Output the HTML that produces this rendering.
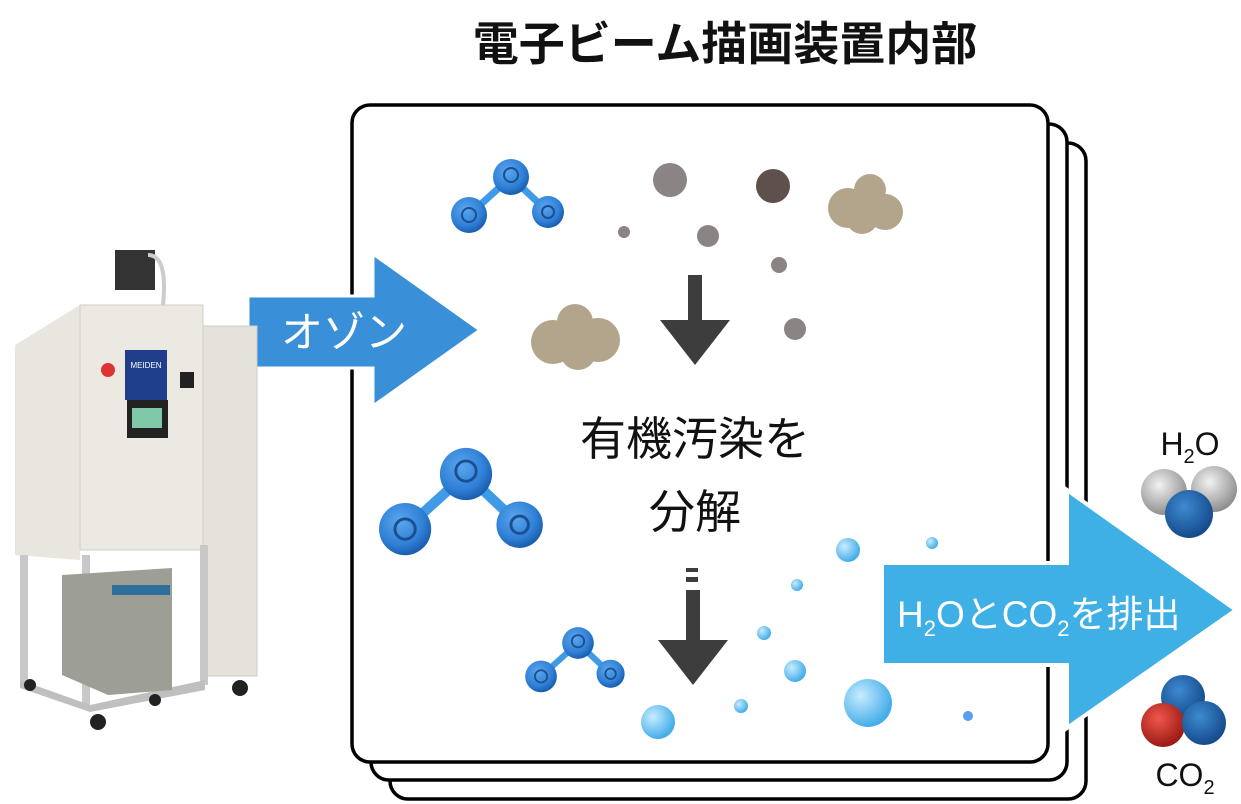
<!DOCTYPE html>
<html><head><meta charset="utf-8"><style>
body{margin:0;background:#fff;width:1241px;height:804px;overflow:hidden}
svg{display:block}
text{font-family:"Liberation Sans","Noto Sans CJK JP",sans-serif}
</style></head><body>
<svg width="1241" height="804" viewBox="0 0 1241 804">
<defs>
<radialGradient id="bl" cx="40%" cy="35%" r="65%"><stop offset="0" stop-color="#5aa6ee"/><stop offset="0.7" stop-color="#2f7fd6"/><stop offset="1" stop-color="#1a5fb0"/></radialGradient>
<radialGradient id="bb" cx="35%" cy="35%" r="65%"><stop offset="0" stop-color="#c8ecff"/><stop offset="1" stop-color="#45aee8"/></radialGradient>
<radialGradient id="gr" cx="40%" cy="35%" r="65%"><stop offset="0" stop-color="#f2f2f2"/><stop offset="1" stop-color="#8f8f8f"/></radialGradient>
<radialGradient id="dk" cx="40%" cy="35%" r="65%"><stop offset="0" stop-color="#3d8ad0"/><stop offset="1" stop-color="#154a8c"/></radialGradient>
<radialGradient id="rd" cx="40%" cy="35%" r="65%"><stop offset="0" stop-color="#f0574c"/><stop offset="1" stop-color="#9a1a14"/></radialGradient>
<g id="mol">
<line x1="0" y1="0" x2="-42" y2="38" stroke="#3f9be6" stroke-width="7"/>
<line x1="0" y1="0" x2="37" y2="35" stroke="#3f9be6" stroke-width="7"/>
<circle cx="0" cy="0" r="18" fill="url(#bl)"/><circle cx="0" cy="-2" r="7" fill="none" stroke="#1b4f8f" stroke-width="2"/>
<circle cx="-42" cy="38" r="18" fill="url(#bl)"/><circle cx="-42" cy="38" r="7" fill="none" stroke="#1b4f8f" stroke-width="2"/>
<circle cx="37" cy="35" r="16" fill="url(#bl)"/><circle cx="37" cy="35" r="6" fill="none" stroke="#1b4f8f" stroke-width="2"/>
</g>
</defs>
<text x="725" y="60" font-size="46" font-weight="bold" text-anchor="middle" fill="#111">電子ビーム描画装置内部</text>
<rect x="390" y="143" width="696" height="656" rx="18" fill="#fff" stroke="#000" stroke-width="3.5"/>
<rect x="371" y="124" width="696" height="656" rx="18" fill="#fff" stroke="#000" stroke-width="3.5"/>
<rect x="352" y="105" width="696" height="657" rx="18" fill="#fff" stroke="#000" stroke-width="3.5"/>
<use href="#mol" transform="translate(511,177)"/>
<use href="#mol" transform="translate(466,474) scale(1.45)"/>
<use href="#mol" transform="translate(578,643) scale(0.88)"/>
<circle cx="670" cy="180" r="17" fill="#8a8584"/>
<circle cx="773" cy="186" r="17" fill="#5e504b"/>
<circle cx="624" cy="232" r="6" fill="#8a8584"/>
<circle cx="708" cy="236" r="11" fill="#8a8584"/>
<circle cx="779" cy="265" r="8" fill="#8a8584"/>
<circle cx="795" cy="329" r="11" fill="#8a8584"/>
<g fill="#b3a58c">
<circle cx="870" cy="190" r="16"/><circle cx="848" cy="208" r="20"/><circle cx="885" cy="212" r="18"/><circle cx="862" cy="218" r="16"/>
<circle cx="575" cy="322" r="18"/><circle cx="553" cy="342" r="22"/><circle cx="598" cy="340" r="22"/><circle cx="578" cy="352" r="18"/>
</g>
<polygon points="688,275 702,275 702,320 730,320 695,365 660,320 688,320" fill="#3d3d3d"/>
<rect x="686" y="568" width="12" height="4" fill="#3d3d3d"/><rect x="686" y="577" width="12" height="5" fill="#3d3d3d"/>
<polygon points="686,590 700,590 700,640 728,640 693,685 658,640 686,640" fill="#3d3d3d"/>
<text x="695" y="455" font-size="46" text-anchor="middle" fill="#111">有機汚染を</text>
<text x="695" y="528" font-size="46" text-anchor="middle" fill="#111">分解</text>
<g fill="url(#bb)">
<circle cx="848" cy="550" r="12"/><circle cx="932" cy="543" r="6"/><circle cx="797" cy="585" r="6"/><circle cx="764" cy="633" r="7"/><circle cx="795" cy="671" r="11"/><circle cx="868" cy="703" r="24"/><circle cx="741" cy="706" r="7"/><circle cx="658" cy="722" r="17"/>
</g>
<circle cx="968" cy="716" r="5" fill="#5aa0f0"/>
<polygon points="248,296 373,296 373,254 480,330 373,406 373,368 248,368" fill="#3a8fd9" stroke="#fff" stroke-width="3"/>
<text x="344" y="347" font-size="42" text-anchor="middle" fill="#fff">オゾン</text>
<polygon points="882,563 1067,563 1067,490 1236,610 1067,728 1067,665 882,665" fill="#3fb0e6" stroke="#fff" stroke-width="4"/>
<text x="897" y="627" font-size="37" fill="#fff">H<tspan font-size="22" dy="9">2</tspan><tspan dy="-9">OとCO</tspan><tspan font-size="22" dy="9">2</tspan><tspan dy="-9">を排出</tspan></text>
<text x="1190" y="455" font-size="32" text-anchor="middle" fill="#111">H<tspan font-size="20" dy="8">2</tspan><tspan dy="-8">O</tspan></text>
<circle cx="1164" cy="492" r="23" fill="url(#gr)"/><circle cx="1214" cy="489" r="23" fill="url(#gr)"/><circle cx="1189" cy="514" r="24" fill="url(#dk)"/>
<circle cx="1183" cy="697" r="22" fill="url(#dk)"/><circle cx="1163" cy="725" r="22" fill="url(#rd)"/><circle cx="1204" cy="723" r="22" fill="url(#dk)"/>
<text x="1185" y="786" font-size="32" text-anchor="middle" fill="#111">CO<tspan font-size="20" dy="8">2</tspan></text>
<g>
<rect x="115" y="250" width="40" height="40" fill="#333"/>
<path d="M148,255 q20,0 15,50" stroke="#ccc" stroke-width="4" fill="none"/>
<polygon points="15,345 80,305 80,560 15,555" fill="#e8e6df"/>
<rect x="80" y="305" width="123" height="245" fill="#ebe9e2" stroke="#cfcdc5"/>
<rect x="203" y="326" width="54" height="350" fill="#e4e2da" stroke="#cfcdc5"/>
<rect x="125" y="350" width="42" height="50" fill="#1f3f8c"/>
<text x="146" y="368" font-size="8" fill="#fff" text-anchor="middle">MEIDEN</text>
<rect x="127" y="400" width="41" height="38" fill="#222"/>
<rect x="132" y="408" width="30" height="20" fill="#7fc9a8"/>
<circle cx="108" cy="370" r="7" fill="#d33"/>
<rect x="180" y="372" width="14" height="16" fill="#222"/>
<rect x="20" y="555" width="8" height="130" fill="#c8c8c8"/>
<rect x="82" y="555" width="8" height="150" fill="#c8c8c8"/>
<rect x="200" y="545" width="8" height="140" fill="#c8c8c8"/>
<polygon points="20,680 90,705 205,680 205,690 90,712 20,688" fill="#bfbfbf"/>
<polygon points="62,575 172,568 172,690 108,695 62,675" fill="#9d9e96"/>
<rect x="112" y="585" width="58" height="10" fill="#2d6f9a"/>
<circle cx="98" cy="722" r="8" fill="#222"/><circle cx="155" cy="700" r="6" fill="#222"/><circle cx="240" cy="688" r="8" fill="#222"/><circle cx="30" cy="685" r="6" fill="#222"/>
</g>
</svg>
</body></html>
